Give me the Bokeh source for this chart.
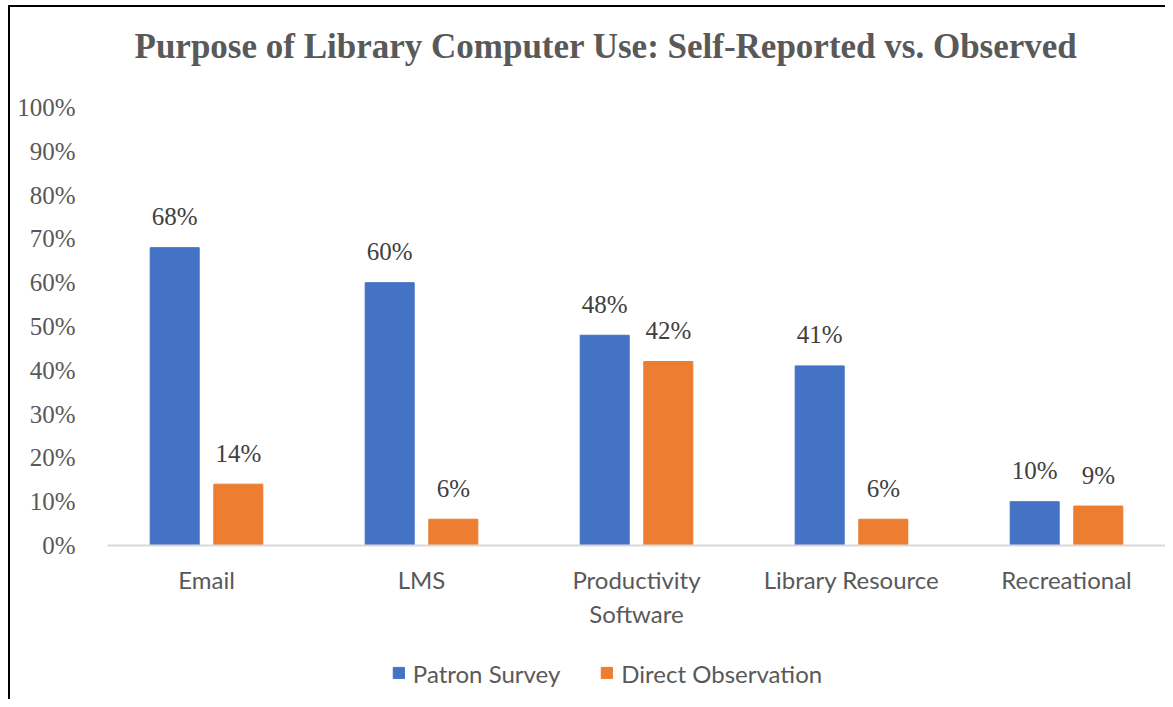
from bokeh.plotting import figure
from bokeh.layouts import column
from bokeh.models import (FactorRange, Range1d, FixedTicker, PrintfTickFormatter,
                          Legend, LegendItem, ColumnDataSource, Label)
from bokeh.transform import dodge
from bokeh.core.properties import value
from bokeh.embed import file_html
from bokeh.resources import INLINE

title_text = "Purpose of Library Computer Use: Self-Reported vs. Observed"
categories = ["Email", "LMS", "Productivity\nSoftware", "Library Resource", "Recreational"]
patron_survey = [68, 60, 48, 41, 10]
direct_observation = [14, 6, 42, 6, 9]
series_names = ["Patron Survey", "Direct Observation"]
y_ticks = list(range(0, 101, 10))

BLUE = "#4472C4"
ORANGE = "#ED7D31"
GREY = "#595959"

src = ColumnDataSource(dict(
    cat=categories,
    patron=patron_survey,
    observed=direct_observation,
    plab=[f"{v}%" for v in patron_survey],
    olab=[f"{v}%" for v in direct_observation],
))

W = 1155
H0 = 70
H1 = 581
H2 = 41


def strip(height, **borders):
    f = figure(width=W, height=height, x_range=Range1d(0, 1), y_range=Range1d(0, 1),
               x_axis_type=None, y_axis_type=None,
               output_backend="svg", toolbar_location=None, **borders)
    f.xgrid.visible = False
    f.ygrid.visible = False
    f.outline_line_color = None
    f.border_fill_color = "white"
    f.frame_align = False
    return f


# ---- title strip
p0 = strip(H0, min_border=0, min_border_left=0, min_border_right=0,
           min_border_top=0, min_border_bottom=0)
p0.add_layout(Label(x=124, y=31, x_units="screen", y_units="screen",
                    text=title_text, text_font="Liberation Serif",
                    text_font_style="bold", text_font_size="35px",
                    text_color=GREY, text_baseline="alphabetic",
                    text_align="left"))

# ---- main chart
p = figure(x_range=FactorRange(factors=categories, range_padding=-0.0395,
                               range_padding_units="absolute"),
           y_range=Range1d(0, 100),
           width=W, height=H1,
           output_backend="svg", toolbar_location=None,
           min_border_left=97, min_border_right=0,
           min_border_top=30, min_border_bottom=113)
p.frame_align = False

p.xgrid.visible = False
p.ygrid.visible = False
p.outline_line_color = None
p.background_fill_color = "white"
p.border_fill_color = "white"

off = 0.148
bw = 0.228
r1 = p.vbar(x=dodge('cat', -off, range=p.x_range), top='patron', width=bw,
            source=src, fill_color=BLUE, line_color=BLUE)
r2 = p.vbar(x=dodge('cat', off, range=p.x_range), top='observed', width=bw,
            source=src, fill_color=ORANGE, line_color=ORANGE)

for col, lab, dx in [('patron', 'plab', -off), ('observed', 'olab', off)]:
    p.text(x=dodge('cat', dx, range=p.x_range), y=col, text=lab, source=src,
           text_align='center', text_baseline='alphabetic', y_offset=-31,
           text_font=value("Liberation Serif"), text_font_size="25px",
           text_color="#404040")

# y axis
p.yaxis.ticker = FixedTicker(ticks=y_ticks)
p.yaxis.formatter = PrintfTickFormatter(format="%d%%")
p.yaxis.axis_line_color = None
p.yaxis.major_tick_line_color = None
p.yaxis.minor_tick_line_color = None
p.yaxis.major_label_standoff = 26
p.yaxis.major_label_text_font = "Liberation Serif"
p.yaxis.major_label_text_font_size = "25px"
p.yaxis.major_label_text_color = GREY

# x axis
p.xaxis.axis_line_color = "#d9d9d9"
p.xaxis.axis_line_width = 2
p.xaxis.major_tick_line_color = None
p.xaxis.minor_tick_line_color = None
p.xaxis.major_label_standoff = 13
p.xaxis.major_label_text_font = "Lato"
p.xaxis.major_label_text_font_size = "24px"
p.xaxis.major_label_text_color = GREY

# ---- legend strip (swatch-only renderers, hidden)
p2 = strip(H2, min_border=0, min_border_left=38, min_border_right=0,
           min_border_top=0, min_border_bottom=12)
k1 = p2.vbar(x='patron', top='patron', width=1, source=src,
             fill_color=BLUE, line_color=BLUE, visible=False)
k2 = p2.vbar(x='patron', top='observed', width=1, source=src,
             fill_color=ORANGE, line_color=ORANGE, visible=False)

legend = Legend(items=[LegendItem(label=series_names[0], renderers=[k1]),
                       LegendItem(label=series_names[1], renderers=[k2])],
                orientation="horizontal", location="center",
                padding=0, margin=0, spacing=39,
                glyph_width=14, glyph_height=14, label_standoff=8,
                border_line_color=None, background_fill_alpha=0,
                label_text_font="Lato", label_text_font_size="24px",
                label_text_color=GREY)
p2.add_layout(legend)

layout = column(p0, p, p2, spacing=0)
layout.styles = {"border-left": "2px solid black", "border-top": "2px solid black",
                 "margin-left": "8px", "margin-top": "5px"}

open("out.html", "w").write(file_html(layout, INLINE))
